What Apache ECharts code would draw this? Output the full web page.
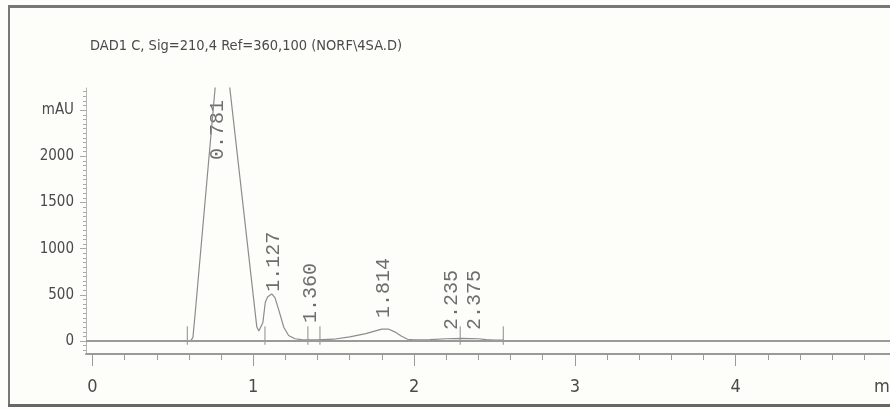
<!DOCTYPE html>
<html>
<head>
<meta charset="utf-8">
<script src="https://cdn.jsdelivr.net/npm/echarts@6/dist/echarts.min.js"></script>
<style>
html,body{margin:0;padding:0;background:#fff;}
#chart{width:890px;height:409px;}
</style>
</head>
<body>
<div id="chart"></div>
<script>
// ---- data ----
const titleText = 'DAD1 C, Sig=210,4 Ref=360,100 (NORF\\4SA.D)';
const times  = [0.00, 0.55, 0.59, 0.612, 0.625, 0.640, 0.803, 1.022, 1.035, 1.047, 1.060, 1.075, 1.090, 1.115, 1.135, 1.160, 1.190, 1.220, 1.260, 1.300, 1.400, 1.500, 1.600, 1.700, 1.760, 1.800, 1.840, 1.880, 1.920, 1.960, 2.000, 2.100, 2.200, 2.300, 2.400, 2.450, 2.500, 2.555];
const signal = [0,    0,    0,    5,     40,    320,   3530,  156,   110,   95,    200,   420,   480,   510,   470,   330,   150,   60,    25,    15,    12,    20,    45,    80,    110,   130,   130,   100,   55,    20,    12,    15,    25,    30,    25,    15,    10,    10];
const peakTimes  = [0.781, 1.127, 1.360, 1.814, 2.235, 2.375];
const peakLabels = ['0.781', '1.127', '1.360', '1.814', '2.235', '2.375'];
const peakLabelBase = [1960, 535, 196, 250, 120, 120];
const eventTimes = [0.59, 1.073, 1.340, 1.415, 2.287, 2.555];
const xTickLabels = [0, 1, 2, 3, 4];
const xMinorTicks = [0,0.2,0.4,0.6,0.8,1,1.2,1.4,1.6,1.8,2,2.2,2.4,2.6,2.8,3,3.2,3.4,3.6,3.8,4,4.2,4.4,4.6,4.8];
const yTickLabels = [0, 500, 1000, 1500, 2000, 2500];
const yUnitLabel = 'mAU';

// ---- chart ----
const yMinor = [];
for (let v = -100; v <= 2700; v += 50) yMinor.push(v);
const narrow = "'Liberation Sans Narrow','DejaVu Sans Condensed','Arial Narrow',sans-serif";
const textColor = '#4a4a4a';
const axisColor = '#9a9a9a';

const chart = echarts.init(document.getElementById('chart'), null, {renderer: 'canvas'});
const option = {
  animation: false,
  backgroundColor: '#fdfdfa',
  title: {
    text: titleText, left: 90, top: 39, padding: 0,
    textStyle: {fontFamily: narrow, fontSize: 14.5, fontWeight: 'normal', color: textColor}
  },
  grid: {left: 86, right: 0, top: 88, bottom: 55, containLabel: false},
  xAxis: [{
    type: 'value', position: 'bottom', min: -0.04, max: 4.96,
    axisLine: {onZero: false, lineStyle: {color: axisColor, width: 2}},
    splitLine: {show: false},
    axisTick: {show: true, customValues: xMinorTicks, length: 6, lineStyle: {color: axisColor}},
    axisLabel: {customValues: xTickLabels, margin: 24, fontFamily: narrow, fontSize: 18, color: textColor}
  }, {
    type: 'value', position: 'bottom', min: -0.04, max: 4.96,
    axisLine: {show: false, onZero: false},
    splitLine: {show: false},
    axisTick: {show: true, customValues: xTickLabels, length: 12, lineStyle: {color: axisColor}},
    axisLabel: {show: false}
  }],
  yAxis: [{
    type: 'value', position: 'left', min: -140, max: 2740,
    axisLine: {show: true, onZero: false, lineStyle: {color: '#b5b5b5', width: 1}},
    splitLine: {show: false},
    axisTick: {show: true, customValues: yMinor, length: 3, lineStyle: {color: '#a8a8a8'}},
    axisLabel: {customValues: yTickLabels, margin: 12, fontFamily: narrow, fontSize: 15, color: textColor,
      formatter: v => (v === 2500 ? yUnitLabel : String(v))}
  }, {
    type: 'value', position: 'left', min: -140, max: 2740,
    axisLine: {show: false, onZero: false},
    splitLine: {show: false},
    axisTick: {show: true, customValues: yTickLabels, length: 6, lineStyle: {color: '#a8a8a8'}},
    axisLabel: {show: false}
  }],
  graphic: [
    {type: 'rect', shape: {x: 8, y: 5, width: 882, height: 3}, style: {fill: '#777'}, z: 100},
    {type: 'rect', shape: {x: 8, y: 5, width: 2, height: 402}, style: {fill: '#777'}, z: 100},
    {type: 'rect', shape: {x: 8, y: 404, width: 882, height: 3}, style: {fill: '#666'}, z: 100},
    {type: 'text', left: 874, top: 378, style: {text: 'min', font: "18px 'Liberation Sans Narrow','DejaVu Sans Condensed',sans-serif", fill: textColor}}
  ],
  series: [{
    name: 'signal', type: 'line', xAxisIndex: 0, yAxisIndex: 0,
    data: times.map((t, i) => [t, signal[i]]),
    showSymbol: false, symbol: 'none', clip: true,
    lineStyle: {color: '#8c8c8c', width: 1.2},
    markLine: {
      silent: true, symbol: ['none', 'none'], label: {show: false},
      lineStyle: {color: '#9a9a9a', width: 2, type: 'solid'},
      data: [{yAxis: 0}]
    }
  }, {
    name: 'events', type: 'custom', xAxisIndex: 0, yAxisIndex: 0,
    data: eventTimes.map(t => [t]),
    renderItem: (params, api) => {
      const t = api.value(0);
      const p1 = api.coord([t, -40]);
      const p2 = api.coord([t, 160]);
      return {type: 'line', shape: {x1: p1[0], y1: p1[1], x2: p2[0], y2: p2[1]},
        style: {stroke: '#8c8c8c', lineWidth: 1}};
    }
  }, {
    name: 'peaks', type: 'scatter', xAxisIndex: 0, yAxisIndex: 0,
    data: peakTimes.map((t, i) => [t, peakLabelBase[i]]),
    symbolSize: 1, itemStyle: {color: 'rgba(0,0,0,0)'},
    label: {
      show: true, position: 'inside', rotate: 90, align: 'left', verticalAlign: 'middle',
      formatter: p => peakLabels[p.dataIndex],
      fontFamily: "'Liberation Mono','DejaVu Sans Mono',monospace", fontSize: 20, color: textColor
    }
  }]
};
chart.setOption(option);
</script>
</body>
</html>
